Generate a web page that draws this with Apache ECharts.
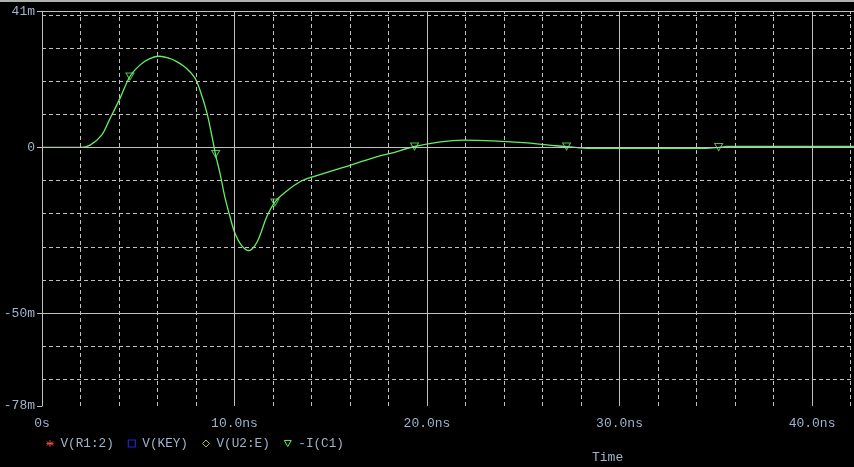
<!DOCTYPE html>
<html>
<head>
<meta charset="utf-8">
<script src="https://cdn.jsdelivr.net/npm/echarts@6/dist/echarts.min.js"></script>
<style>
html,body{margin:0;padding:0;background:#000;}
#chart{width:854px;height:467px;}
</style>
</head>
<body>
<div id="chart"></div>
<script>
// ---- data (time in ns, current in mA) ----
const timeNs = [0, 1.0, 2.0, 2.5, 3.1, 3.5, 4.05, 4.57, 5.1, 5.6, 6.1, 6.55, 7.0, 7.5, 7.95, 8.2, 8.55, 8.8, 8.94, 9.02, 9.25, 9.5, 9.77, 10.03, 10.37, 10.75, 11.06, 11.32, 11.67, 12.1, 12.7, 13.45, 14.1, 16.0, 17.5, 18.1, 19.3, 20.7, 21.9, 23.4, 25.2, 26.7, 27.3, 28.5, 34.4, 35.2, 35.6, 42.2];
const currentmA = [0, 0, 0, 0.7, 3.7, 8.3, 14.8, 21.4, 24.9, 26.8, 27.5, 27.0, 25.9, 23.9, 20.9, 17.4, 10.8, 4.2, 0, -2.3, -7.9, -15, -21, -26, -29.6, -31.1, -29.6, -26.6, -21, -16.5, -13.2, -10.2, -8.8, -5.4, -2.6, -1.8, 0.2, 1.7, 2.2, 2.0, 1.4, 0.5, 0.2, -0.3, -0.3, 0, 0.3, 0.3];
const markerTimeNs = [4.57, 9.02, 12.1, 19.35, 27.25, 35.15];
const markerCurrentmA = [21.4, -2.0, -16.6, 0.3, 0.3, 0.1];

const legendNames = ['V(R1:2)', 'V(KEY)', 'V(U2:E)', '-I(C1)'];

const xTickValues = [0, 10, 20, 30, 40];
const xTickLabels = ['0s', '10.0ns', '20.0ns', '30.0ns', '40.0ns'];
const xMinorGrid = [2, 4, 6, 8, 12, 14, 16, 18, 22, 24, 26, 28, 32, 34, 36, 38, 42];
const yTickValues = [41, 0, -50, -78];
const yTickLabels = ['41m', '0', '-50m', '-78m'];
const yMinorGrid = [40, 30, 20, 10, -10, -20, -30, -40, -60, -70];
const ySolidGrid = [41, 0, -50];

const GREEN = '#62f062';
const GRAY = '#c0c0c0';
const TXT = '#9fb3cb';
const FONT = '"Liberation Mono", "DejaVu Sans Mono", monospace';

const chart = echarts.init(document.getElementById('chart'), null, {renderer: 'canvas'});

const dashed = {color: GRAY, width: 1, type: [4, 3]};
const solid = {color: GRAY, width: 1, type: 'solid'};
const gridLines = [];
yMinorGrid.forEach(v => gridLines.push({yAxis: v, lineStyle: dashed}));
xMinorGrid.forEach(v => gridLines.push({xAxis: v, lineStyle: dashed}));
ySolidGrid.forEach(v => gridLines.push({yAxis: v, lineStyle: solid}));
xTickValues.filter(v => v > 0).forEach(v => gridLines.push({xAxis: v, lineStyle: solid}));

const option = {
  backgroundColor: '#000',
  animation: false,
  graphic: [{type: 'rect', left: 0, top: 0, shape: {width: 854, height: 2}, style: {fill: '#b0b0b0'}}],
  title: {text: 'Time', left: 592, top: 451, padding: 0, textStyle: {color: TXT, fontFamily: FONT, fontSize: 13, fontWeight: 'normal'}},
  legend: {
    left: 44, top: 437, padding: 0, itemWidth: 7, itemHeight: 7, itemGap: 12,
    textStyle: {color: TXT, fontFamily: FONT, fontSize: 12.7, padding: [0, 0, 0, 2]},
    data: [
      {name: legendNames[0], icon: 'path://M4 0L4 8M0 2L8 6M0 6L8 2M0 4L8 4', itemStyle: {color: 'none', borderColor: '#ff5050', borderWidth: 1}},
      {name: legendNames[1], icon: 'rect', itemStyle: {color: 'none', borderColor: '#3030ff', borderWidth: 1.2}},
      {name: legendNames[2], icon: 'diamond', itemStyle: {color: 'none', borderColor: '#e8e840', borderWidth: 1}},
      {name: legendNames[3], icon: 'path://M0 0L8 0L4 7Z', itemStyle: {color: 'none', borderColor: GREEN, borderWidth: 1}}
    ]
  },
  grid: {left: 42, right: 0, top: 11.5, bottom: 61, containLabel: false},
  xAxis: {
    type: 'value', min: 0, max: 42.18,
    axisLine: {lineStyle: {color: GRAY}},
    axisTick: {customValues: xTickValues, length: 7, lineStyle: {color: GRAY}},
    axisLabel: {customValues: xTickValues, margin: 11, color: TXT, fontFamily: FONT, fontSize: 13,
      formatter: v => xTickLabels[xTickValues.indexOf(v)]},
    splitLine: {show: false}
  },
  yAxis: {
    type: 'value', min: -78, max: 41,
    axisLine: {show: true, lineStyle: {color: GRAY}},
    axisTick: {show: true, customValues: yTickValues, length: 5, lineStyle: {color: GRAY}},
    axisLabel: {customValues: yTickValues, margin: 7, color: TXT, fontFamily: FONT, fontSize: 13,
      formatter: v => yTickLabels[yTickValues.indexOf(v)]},
    splitLine: {show: false}
  },
  series: [
    {name: 'gridlines', type: 'line', data: [], z: 1, silent: true,
      markLine: {silent: true, symbol: ['none', 'none'], label: {show: false}, animation: false, data: gridLines}},
    {name: legendNames[0], type: 'scatter', data: []},
    {name: legendNames[1], type: 'scatter', data: []},
    {name: legendNames[2], type: 'scatter', data: []},
    {name: legendNames[3], type: 'line', z: 3, showSymbol: false, smooth: 0.35,
      lineStyle: {color: GREEN, width: 1.3}, itemStyle: {color: GREEN},
      data: timeNs.map((t, i) => [t, currentmA[i]])},
    {name: legendNames[3], type: 'scatter', z: 4, symbol: 'path://M0 0L8 0L4 7Z', symbolSize: [8, 7],
      itemStyle: {color: 'none', borderColor: GREEN, borderWidth: 1},
      data: markerTimeNs.map((t, i) => [t, markerCurrentmA[i]])}
  ]
};
chart.setOption(option);
</script>
</body>
</html>
